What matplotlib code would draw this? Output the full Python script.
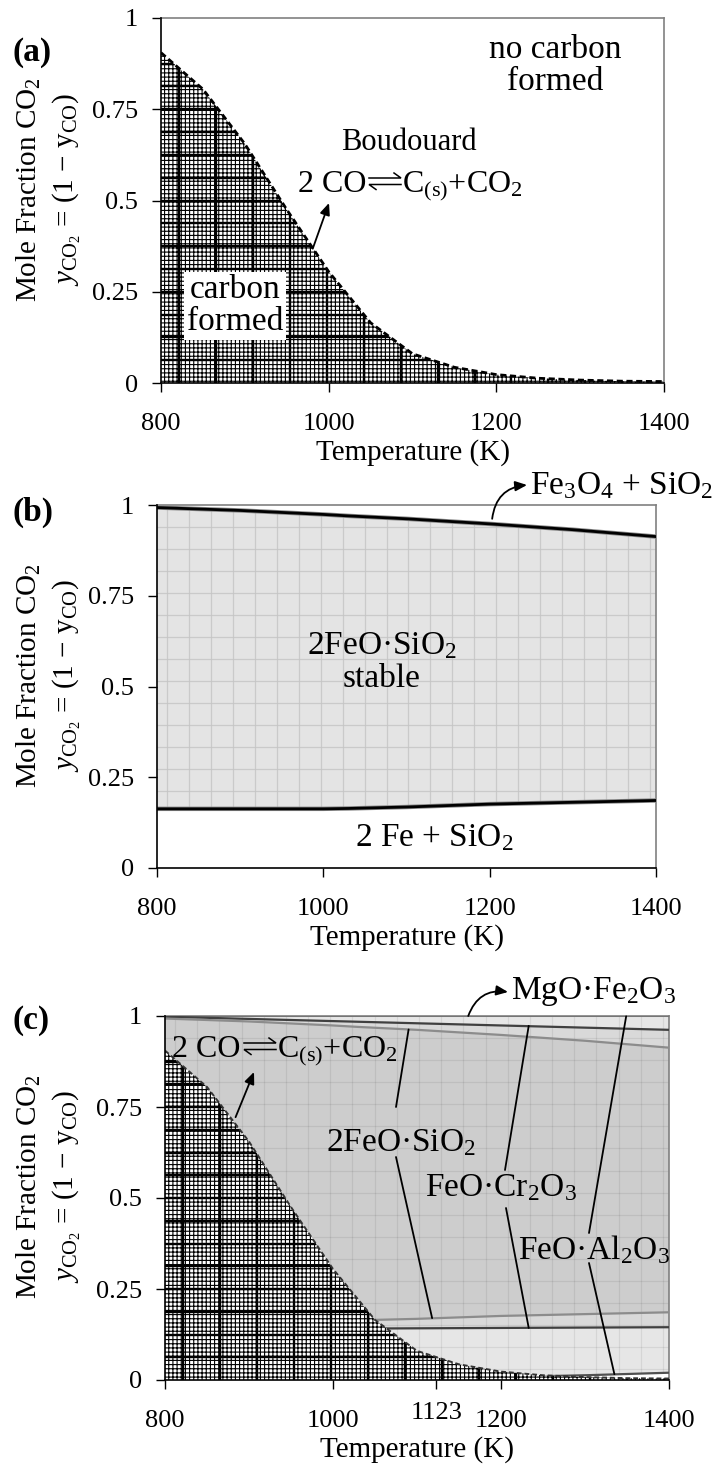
import numpy as np
import matplotlib
matplotlib.use('Agg')
import matplotlib.pyplot as plt
import matplotlib.transforms as mtrans
from matplotlib.lines import Line2D

plt.rcParams['font.family'] = ['Liberation Serif', 'DejaVu Serif']
plt.rcParams['mathtext.fontset'] = 'custom'
plt.rcParams['mathtext.rm'] = 'Liberation Serif'
plt.rcParams['mathtext.it'] = 'Liberation Serif:italic'
plt.rcParams['mathtext.bf'] = 'Liberation Serif:bold'
plt.rcParams['mathtext.fallback'] = 'stix'
plt.rcParams['hatch.linewidth'] = 0.8
plt.rcParams['hatch.color'] = 'black'

# ---------------- data ----------------
xticks = [800, 1000, 1200, 1400]
xtick_labels = ['800', '1000', '1200', '1400']
yticks = [0, 0.25, 0.5, 0.75, 1]
ytick_labels = ['0', '0.25', '0.5', '0.75', '1']

# Boudouard equilibrium (carbon formed below)
temp_boud = [800, 850, 900, 950, 1000, 1050, 1100, 1150, 1200, 1250, 1300, 1350, 1400]
y_boud = [0.905, 0.805, 0.655, 0.475, 0.305, 0.165, 0.08, 0.043, 0.023, 0.013, 0.008, 0.005, 0.004]

# 2FeO.SiO2 stability window
temp_fay = [800, 900, 1000, 1030, 1100, 1200, 1300, 1400]
fay_upper = [0.993, 0.985, 0.974, 0.970, 0.962, 0.948, 0.932, 0.913]
fay_lower = [0.163, 0.163, 0.163, 0.164, 0.168, 0.176, 0.181, 0.186]

# FeO.Cr2O3 stability window
temp_chr = [800, 1000, 1200, 1400]
chr_upper = [0.998, 0.986, 0.974, 0.962]
chr_lower = [0.140, 0.141, 0.143, 0.145]

# FeO.Al2O3 stability window
temp_her = [800, 1000, 1200, 1300, 1400]
her_upper = [0.999, 0.999, 0.999, 0.999, 0.999]
her_lower = [0.001, 0.003, 0.008, 0.013, 0.020]

# ---------------- figure ----------------
W, H = 715, 1474
fig = plt.figure(figsize=(W / 100, H / 100), dpi=100)


def P(x, y):
    return (x / W, 1 - y / H)


def make_ax(l, r, t, b, xt, xtl):
    ax = fig.add_axes([l / W, 1 - b / H, (r - l) / W, (b - t) / H])
    ax.set_xlim(800, 1400)
    ax.set_ylim(0, 1)
    ax.set_xticks(xt)
    ax.set_xticklabels(xtl)
    ax.set_yticks(yticks)
    ax.set_yticklabels(ytick_labels)
    ax.tick_params(direction='out', length=6.5, width=1, labelsize=19, color='black')
    ax.tick_params(axis='x', pad=15)
    ax.tick_params(axis='y', pad=10)
    for s in ['top', 'right']:
        ax.spines[s].set_color('#808080')
        ax.spines[s].set_linewidth(1.2)
    for s in ['left', 'bottom']:
        ax.spines[s].set_color('black')
        ax.spines[s].set_linewidth(1.2)
        ax.spines[s].set_zorder(20)
    ax.set_xlabel('Temperature (K)', fontsize=21)
    ax.xaxis.set_label_coords(0.5, -56 / (b - t))
    cy = (t + b) / 2 - 11
    fig.text(*P(29, cy), 'Mole Fraction CO$_2$', rotation=90, ha='center', va='center', fontsize=21)
    fig.text(*P(67, cy), '$y_{\\mathrm{CO}_2}$ = (1 \u2212 y$_{\\mathrm{CO}}$)', rotation=90,
             ha='center', va='center', fontsize=21)
    return ax


def carbon_region(ax, z):
    carb = ax.fill_between(temp_boud, 0, y_boud, facecolor='white', edgecolor='black',
                           hatch='++++', linewidth=0, zorder=z)
    path = carb.get_paths()[0]
    vl = ax.vlines(np.arange(822, 1400, 44), 0, 1, colors='black', lw=1.7, zorder=z + 0.1)
    vl.set_clip_path(path, ax.transData)
    hl = ax.hlines(np.arange(0.0625, 1, 0.0625), 800, 1400, colors='black', lw=1.7, zorder=z + 0.1)
    hl.set_clip_path(path, ax.transData)
    return carb


def texture(ax, coll, color, alpha, z):
    path = coll.get_paths()[0]
    vl = ax.vlines(np.arange(812, 1400, 26.4), 0, 1, colors=color, lw=0.9, alpha=alpha, zorder=z)
    vl.set_clip_path(path, ax.transData)
    hl = ax.hlines(np.arange(0.03, 1, 0.0606), 800, 1400, colors=color, lw=0.9, alpha=alpha, zorder=z)
    hl.set_clip_path(path, ax.transData)


def reaction(x_split, baseline, size=23):
    """'2 CO <=> C(s)+CO2' with a drawn equilibrium harpoon between x_split and x_split+34 px."""
    x0, x1 = x_split + 3, x_split + 35
    fig.text(*P(x_split, baseline), '2 CO', fontsize=size, ha='right', va='baseline')
    fig.text(*P(x1 + 1, baseline), 'C$_{\\mathrm{(s)}}$+CO$_2$', fontsize=size, ha='left', va='baseline')
    yu, yl = baseline - 14, baseline - 7.5
    for xs, ys in [([x0, x1, x1 - 7], [yu, yu, yu - 5]),
                   ([x1, x0, x0 + 7], [yl, yl, yl + 5])]:
        pts = [P(a, b) for a, b in zip(xs, ys)]
        fig.add_artist(Line2D([p[0] for p in pts], [p[1] for p in pts], color='black', lw=1.1,
                              solid_joinstyle='miter', transform=fig.transFigure))


arrow_kw = dict(arrowstyle='-|>,head_length=0.7,head_width=0.3', color='black', lw=1.3,
                shrinkA=0, shrinkB=0)

# ---------------- panel (a) ----------------
ax_a = make_ax(161, 664, 18, 383, xticks, xtick_labels)
carbon_region(ax_a, 2)
ax_a.plot(temp_boud, y_boud, color='black', lw=2.0, ls=(0, (2.2, 1.3)), zorder=4)
fig.text(*P(13, 53), '(a)', fontsize=24, fontweight='bold', ha='left', va='center')
fig.text(*P(555, 66), 'no carbon\nformed', fontsize=24, ha='center', va='center', linespacing=1.05)
fig.text(*P(235, 306), 'carbon\nformed', fontsize=24, ha='center', va='center', linespacing=1.05,
         bbox=dict(facecolor='white', edgecolor='none', pad=2), zorder=10)
fig.text(*P(409, 143), 'Boudouard', fontsize=22, ha='center', va='center')
reaction(366, 192)
ax_a.annotate('', xy=P(329, 203), xycoords='figure fraction', xytext=(981, 0.368),
              textcoords='data', arrowprops=arrow_kw, zorder=12)

# ---------------- panel (b) ----------------
ax_b = make_ax(157, 656, 505, 868, xticks, xtick_labels)
fay_b = ax_b.fill_between(temp_fay, fay_lower, fay_upper, facecolor='#e4e4e4', linewidth=0, zorder=1)
texture(ax_b, fay_b, '#c4c4c4', 0.8, 1.5)
ax_b.plot(temp_fay, fay_upper, color='#888888', lw=3.2, zorder=3)
ax_b.plot(temp_fay, fay_upper, color='black', lw=2.0, zorder=3.1)
ax_b.plot(temp_fay, fay_lower, color='#888888', lw=3.2, zorder=3)
ax_b.plot(temp_fay, fay_lower, color='black', lw=2.0, zorder=3.1)
fig.text(*P(13, 512), '(b)', fontsize=24, fontweight='bold', ha='left', va='center')
fig.text(*P(382, 662), '2FeO\u00b7SiO$_2$\nstable', fontsize=24, ha='center', va='center', linespacing=1.1)
fig.text(*P(434, 838), '2 Fe + SiO$_2$', fontsize=24, ha='center', va='center')
fig.text(*P(530, 486), 'Fe$_3$O$_4$ + SiO$_2$', fontsize=24, ha='left', va='center')
ax_b.annotate('', xy=P(527, 485), xycoords='figure fraction', xytext=(1203, 0.962),
              textcoords='data',
              arrowprops=dict(arrow_kw, connectionstyle='arc3,rad=-0.4'), annotation_clip=False)

# ---------------- panel (c) ----------------
ax_c = make_ax(165, 669, 1016, 1380, [800, 1000, 1123, 1200, 1400],
               ['800', '1000', '', '1200', '1400'])
her_c = ax_c.fill_between(temp_her, her_lower, her_upper, facecolor='#e6e6e6', linewidth=0, zorder=1)
ax_c.fill_between(temp_chr, chr_lower, chr_upper, facecolor='#d9d9d9', linewidth=0, zorder=1.1)
ax_c.fill_between(temp_fay, fay_lower, fay_upper, facecolor='#cdcdcd', linewidth=0, zorder=1.2)
texture(ax_c, her_c, 'black', 0.07, 1.5)
ax_c.plot(temp_her, her_upper, color='#707070', lw=1.2, zorder=3)
ax_c.plot(temp_her, her_lower, color='#505050', lw=1.6, zorder=3)
ax_c.plot(temp_chr, chr_upper, color='#404040', lw=1.6, zorder=3)
ax_c.plot(temp_chr, chr_lower, color='#404040', lw=1.6, zorder=3)
ax_c.plot(temp_fay, fay_upper, color='#8c8c8c', lw=1.6, zorder=3)
ax_c.plot(temp_fay, fay_lower, color='#8c8c8c', lw=1.6, zorder=3)
carbon_region(ax_c, 5)
ax_c.plot(temp_boud, y_boud, color='#333333', lw=1.4, ls=(0, (2.5, 1.5)), zorder=6)

fig.text(*P(13, 1020), '(c)', fontsize=24, fontweight='bold', ha='left', va='center')
reaction(241, 1057)
ax_c.annotate('', xy=P(254, 1072), xycoords='figure fraction', xytext=(884, 0.722),
              textcoords='data', arrowprops=arrow_kw, zorder=12)
fig.text(*P(511, 992), 'MgO\u00b7Fe$_2$O$_3$', fontsize=24, ha='left', va='center')
ax_c.annotate('', xy=P(508, 992), xycoords='figure fraction', xytext=(1161, 1.0),
              textcoords='data',
              arrowprops=dict(arrow_kw, connectionstyle='arc3,rad=-0.4'), annotation_clip=False)

fig.text(*P(401, 1143), '2FeO\u00b7SiO$_2$', fontsize=24, ha='center', va='center')
fig.text(*P(501, 1188), 'FeO\u00b7Cr$_2$O$_3$', fontsize=24, ha='center', va='center')
fig.text(*P(594, 1250), 'FeO\u00b7Al$_2$O$_3$', fontsize=24, ha='center', va='center')

line_kw = dict(arrowstyle='-', color='black', lw=1.3, shrinkA=0, shrinkB=0)
leaders = [((396, 1107), (1090, 0.963)), ((396, 1157), (1118, 0.170)),
           ((505, 1170), (1233, 0.973)), ((506, 1208), (1233, 0.143)),
           ((589, 1233), (1349, 0.999)), ((589, 1263), (1335, 0.016))]
for (px, py), (tx, ty) in leaders:
    ax_c.annotate('', xy=(tx, ty), xycoords='data', xytext=P(px, py),
                  textcoords='figure fraction', arrowprops=line_kw, zorder=8)

btrans = mtrans.blended_transform_factory(ax_c.transData, fig.transFigure)
ax_c.text(1123, 1 - 1413 / H, '1123', transform=btrans, fontsize=19, ha='center', va='center')

fig.savefig('out.png', dpi=100)
